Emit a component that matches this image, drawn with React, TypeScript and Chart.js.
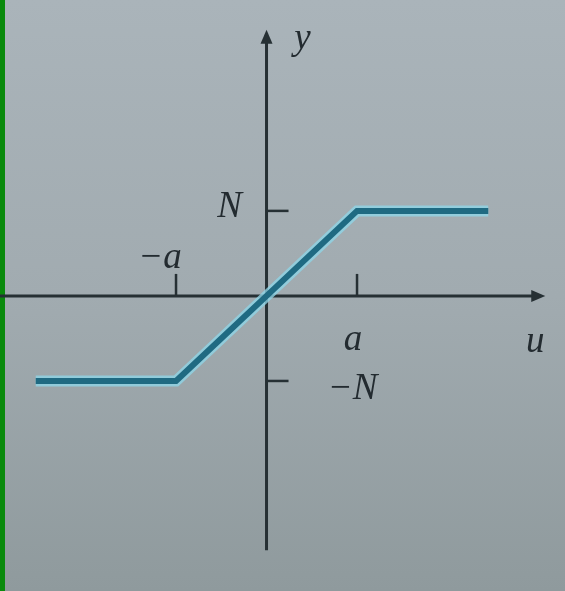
import { useEffect, useRef } from "react";
import { Chart, registerables } from "chart.js";

Chart.register(...registerables);

// Saturation characteristic y(u): slope N/a between -a and a, clipped at ±N.
const uPoints = [-2.55, -1, 1, 2.45];
const yPoints = [-1, -1, 1, 1];

// Tick positions on each axis and their labels.
const uTickValues = [-1, 1];
const uTickLabels = ["−a", "a"];
const yTickValues = [1, -1];
const yTickLabels = ["N", "−N"];

// Axis names and how far each axis is drawn.
const uAxisName = "u";
const yAxisName = "y";
const uAxisExtent = [-2.95, 3.08];
const yAxisExtent = [-2.99, 3.13];

// Visible window of the coordinate plane.
const uRange = [-2.945, 3.298];
const yRange = [-3.47, 3.48];

const AXIS_COLOR = "#263034";
const TEXT_COLOR = "#232b30";
const LABEL_FONT = "italic 37px 'Liberation Serif', 'DejaVu Serif', serif";

const axesPlugin = {
  id: "saturationAxes",
  beforeDatasetsDraw(chart: any) {
    const { ctx } = chart;
    const xs = chart.scales.x;
    const ys = chart.scales.y;
    const x0 = xs.getPixelForValue(0);
    const y0 = ys.getPixelForValue(0);
    const xL = xs.getPixelForValue(uAxisExtent[0]);
    const xR = xs.getPixelForValue(uAxisExtent[1]);
    const yB = ys.getPixelForValue(yAxisExtent[0]);
    const yT = ys.getPixelForValue(yAxisExtent[1]);

    ctx.save();
    ctx.strokeStyle = AXIS_COLOR;
    ctx.fillStyle = AXIS_COLOR;
    ctx.lineWidth = 3;
    ctx.lineCap = "butt";

    // horizontal axis
    ctx.beginPath();
    ctx.moveTo(xL, y0);
    ctx.lineTo(xR - 6, y0);
    ctx.stroke();
    ctx.beginPath();
    ctx.moveTo(xR, y0);
    ctx.lineTo(xR - 14, y0 - 6);
    ctx.lineTo(xR - 14, y0 + 6);
    ctx.closePath();
    ctx.fill();

    // vertical axis
    ctx.beginPath();
    ctx.moveTo(x0, yB);
    ctx.lineTo(x0, yT + 6);
    ctx.stroke();
    ctx.beginPath();
    ctx.moveTo(x0, yT);
    ctx.lineTo(x0 - 6, yT + 14);
    ctx.lineTo(x0 + 6, yT + 14);
    ctx.closePath();
    ctx.fill();

    // tick marks
    ctx.lineWidth = 2.5;
    uTickValues.forEach((v) => {
      const px = xs.getPixelForValue(v);
      ctx.beginPath();
      ctx.moveTo(px, y0);
      ctx.lineTo(px, y0 - 22);
      ctx.stroke();
    });
    yTickValues.forEach((v) => {
      const py = ys.getPixelForValue(v);
      ctx.beginPath();
      ctx.moveTo(x0, py);
      ctx.lineTo(x0 + 22, py);
      ctx.stroke();
    });

    // labels
    ctx.font = LABEL_FONT;
    ctx.fillStyle = TEXT_COLOR;
    ctx.textAlign = "center";
    ctx.textBaseline = "middle";
    uTickValues.forEach((v, i) => {
      const px = xs.getPixelForValue(v);
      if (v < 0) ctx.fillText(uTickLabels[i], px - 16, y0 - 38);
      else ctx.fillText(uTickLabels[i], px - 4, y0 + 44);
    });
    yTickValues.forEach((v, i) => {
      const py = ys.getPixelForValue(v);
      if (v > 0) ctx.fillText(yTickLabels[i], x0 - 37, py - 4);
      else ctx.fillText(yTickLabels[i], x0 + 86, py + 8);
    });
    ctx.fillText(uAxisName, xR - 10, y0 + 46);
    ctx.fillText(yAxisName, x0 + 36, yT + 10);
    ctx.restore();
  },
};

export default function App() {
  const canvasRef = useRef<HTMLCanvasElement | null>(null);

  useEffect(() => {
    if (!canvasRef.current) return;
    const points = uPoints.map((u, i) => ({ x: u, y: yPoints[i] }));
    const chart = new Chart(canvasRef.current, {
      type: "scatter",
      data: {
        datasets: [
          // dark core stroke (drawn on top)
          {
            data: points,
            showLine: true,
            borderColor: "#1f6a82",
            borderWidth: 6,
            pointRadius: 0,
            borderJoinStyle: "miter",
            borderCapStyle: "butt",
          },
          // pale halo around the curve
          {
            data: points,
            showLine: true,
            borderColor: "rgba(142, 212, 230, 0.8)",
            borderWidth: 11,
            pointRadius: 0,
            borderJoinStyle: "miter",
            borderCapStyle: "butt",
          },
        ],
      },
      options: {
        animation: false,
        responsive: false,
        devicePixelRatio: 1,
        layout: { padding: 0 },
        plugins: {
          legend: { display: false },
          tooltip: { enabled: false },
        },
        scales: {
          x: { type: "linear", min: uRange[0], max: uRange[1], display: false },
          y: { type: "linear", min: yRange[0], max: yRange[1], display: false },
        },
      },
      plugins: [axesPlugin],
    });
    return () => chart.destroy();
  }, []);

  return (
    <div
      style={{
        position: "fixed",
        left: 0,
        top: 0,
        width: 565,
        height: 591,
        background:
          "linear-gradient(to right, #0a8a0c 0px, #0a8a0c 5px, transparent 5px), linear-gradient(to bottom, #aab4ba, #a1abb0 50%, #8f9a9d)",
      }}
    >
      <canvas ref={canvasRef} width={565} height={591} style={{ display: "block" }} />
    </div>
  );
}
